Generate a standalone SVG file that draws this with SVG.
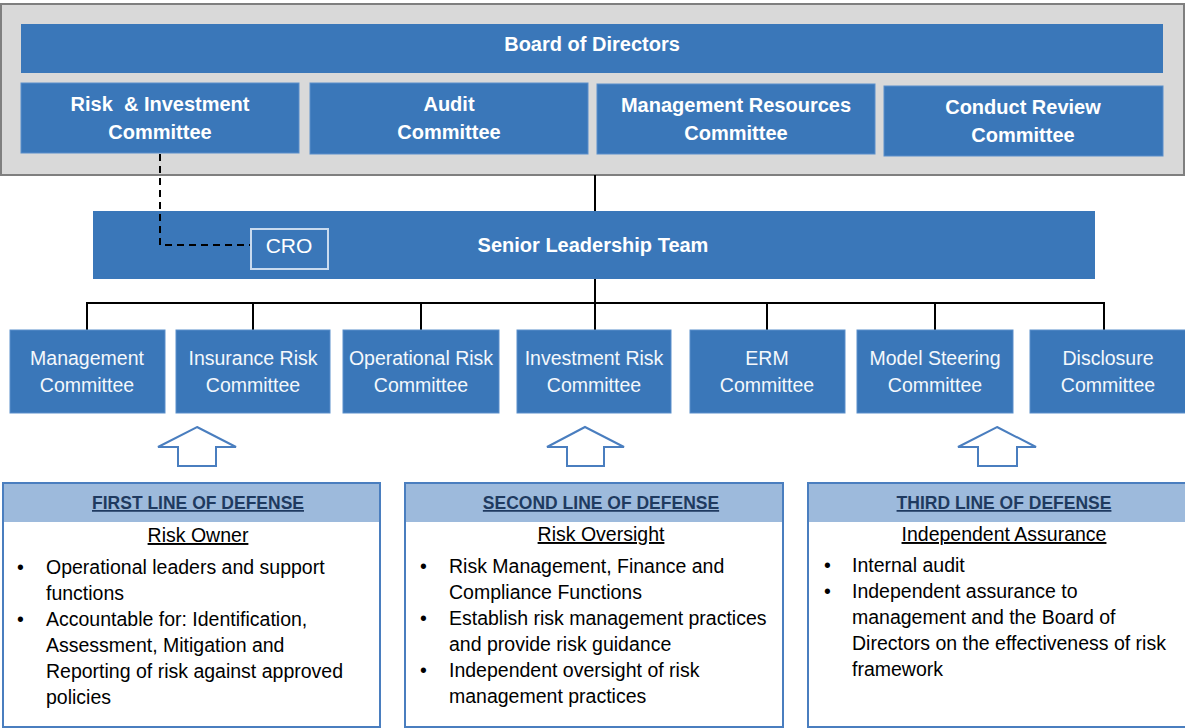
<svg xmlns="http://www.w3.org/2000/svg" width="1185" height="728" viewBox="0 0 1185 728">
  <style>
    .blue { fill: #3a77b9; }
    .cbox { fill: #3a77b9; stroke: #5a8fcb; stroke-width: 1; }
    .wb { font-family: "Liberation Sans", Arial, sans-serif; font-size: 20px; font-weight: bold; fill: #ffffff; text-anchor: middle; }
    .wn { font-family: "Liberation Sans", Arial, sans-serif; font-size: 19.5px; fill: #f4f8fc; text-anchor: middle; }
    .conn { stroke: #000000; stroke-width: 2; fill: none; }
    .dash { stroke: #000000; stroke-width: 2; fill: none; stroke-dasharray: 7 5; }
    .arrow { fill: #ffffff; stroke: #4a7ebf; stroke-width: 2; }
    .panel { fill: #ffffff; stroke: #4a7ebf; stroke-width: 2; }
    .band { fill: #9dbadc; }
    .hd { font-family: "Liberation Sans", Arial, sans-serif; font-size: 17.5px; font-weight: bold; fill: #1f3a60; text-anchor: middle; text-decoration: underline; }
    .sub { font-family: "Liberation Sans", Arial, sans-serif; font-size: 19.5px; fill: #000000; text-anchor: middle; text-decoration: underline; }
    .body { font-family: "Liberation Sans", Arial, sans-serif; font-size: 19.5px; fill: #000000; }
  </style>

  <!-- Board frame -->
  <g id="board-frame">
    <rect x="1" y="4" width="1183" height="171" fill="#d9d9d9" stroke="#7f7f7f" stroke-width="2"/>
  </g>

  <g id="board">
    <rect class="blue" x="21" y="24" width="1142" height="49"/>
    <text class="wb" x="592" y="51">Board of Directors</text>
  </g>

  <g id="risk-investment">
    <rect class="cbox" x="21" y="83" width="278" height="70"/>
    <text class="wb" x="160" y="111" xml:space="preserve">Risk  &amp; Investment</text>
    <text class="wb" x="160" y="139">Committee</text>
  </g>
  <g id="audit">
    <rect class="cbox" x="310" y="83" width="278" height="71"/>
    <text class="wb" x="449" y="111">Audit</text>
    <text class="wb" x="449" y="139">Committee</text>
  </g>
  <g id="mgmt-resources">
    <rect class="cbox" x="597" y="84" width="278" height="70"/>
    <text class="wb" x="736" y="112">Management Resources</text>
    <text class="wb" x="736" y="140">Committee</text>
  </g>
  <g id="conduct-review">
    <rect class="cbox" x="884" y="86" width="279" height="70"/>
    <text class="wb" x="1023" y="114">Conduct Review</text>
    <text class="wb" x="1023" y="142">Committee</text>
  </g>

  <g id="senior-leadership">
    <rect class="blue" x="93" y="211" width="1002" height="68"/>
    <text class="wb" x="593" y="252">Senior Leadership Team</text>
  </g>

  <!-- Connectors (drawn over the leadership bar so the dotted reporting line shows) -->
  <g id="connectors">
    <line class="conn" x1="595" y1="175" x2="595" y2="211"/>
    <line class="conn" x1="595" y1="279" x2="595" y2="330"/>
    <line class="conn" x1="87" y1="303" x2="1104" y2="303"/>
    <line class="conn" x1="87" y1="302" x2="87" y2="330"/>
    <line class="conn" x1="253" y1="302" x2="253" y2="330"/>
    <line class="conn" x1="421" y1="302" x2="421" y2="330"/>
    <line class="conn" x1="767" y1="302" x2="767" y2="330"/>
    <line class="conn" x1="935" y1="302" x2="935" y2="330"/>
    <line class="conn" x1="1104" y1="302" x2="1104" y2="330"/>
    <path class="dash" d="M160,154 V245 H250"/>
  </g>

  <g id="cro">
    <rect x="251" y="229" width="77" height="40" fill="#3a77b9" stroke="#c9dbef" stroke-width="2"/>
    <text x="289" y="253" font-family="Liberation Sans, Arial, sans-serif" font-size="21" fill="#ffffff" text-anchor="middle">CRO</text>
  </g>

  <!-- Management committees -->
  <g id="management-committee">
    <rect class="cbox" x="10" y="330" width="155" height="83"/>
    <text class="wn" x="87" y="365">Management</text>
    <text class="wn" x="87" y="392">Committee</text>
  </g>
  <g id="insurance-risk">
    <rect class="cbox" x="176" y="330" width="154" height="83"/>
    <text class="wn" x="253" y="365">Insurance Risk</text>
    <text class="wn" x="253" y="392">Committee</text>
  </g>
  <g id="operational-risk">
    <rect class="cbox" x="343" y="330" width="156" height="83"/>
    <text class="wn" x="421" y="365">Operational Risk</text>
    <text class="wn" x="421" y="392">Committee</text>
  </g>
  <g id="investment-risk">
    <rect class="cbox" x="517" y="330" width="154" height="83"/>
    <text class="wn" x="594" y="365">Investment Risk</text>
    <text class="wn" x="594" y="392">Committee</text>
  </g>
  <g id="erm">
    <rect class="cbox" x="690" y="330" width="155" height="83"/>
    <text class="wn" x="767" y="365">ERM</text>
    <text class="wn" x="767" y="392">Committee</text>
  </g>
  <g id="model-steering">
    <rect class="cbox" x="857" y="330" width="156" height="83"/>
    <text class="wn" x="935" y="365">Model Steering</text>
    <text class="wn" x="935" y="392">Committee</text>
  </g>
  <g id="disclosure">
    <rect class="cbox" x="1030" y="330" width="156" height="83"/>
    <text class="wn" x="1108" y="365">Disclosure</text>
    <text class="wn" x="1108" y="392">Committee</text>
  </g>

  <!-- Hollow up-arrows -->
  <g id="arrow-first">
    <polygon class="arrow" points="197,427 236,447 216,447 216,466 178,466 178,447 158,447"/>
  </g>
  <g id="arrow-second">
    <polygon class="arrow" points="585,427 624,447 604,447 604,466 567,466 567,447 547,447"/>
  </g>
  <g id="arrow-third">
    <polygon class="arrow" points="997,427 1036,447 1017,447 1017,466 978,466 978,447 958,447"/>
  </g>

  <!-- First line of defense -->
  <g id="first-line">
    <rect class="panel" x="3" y="483" width="377" height="244"/>
    <rect class="band" x="4" y="484" width="375" height="38"/>
    <text class="hd" x="198" y="509">FIRST LINE OF DEFENSE</text>
    <text class="sub" x="198" y="542">Risk Owner</text>
    <text class="body" x="17" y="574">•</text>
    <text class="body" x="46" y="574">Operational leaders and support</text>
    <text class="body" x="46" y="600">functions</text>
    <text class="body" x="17" y="626">•</text>
    <text class="body" x="46" y="626">Accountable for: Identification,</text>
    <text class="body" x="46" y="652">Assessment, Mitigation and</text>
    <text class="body" x="46" y="678">Reporting of risk against approved</text>
    <text class="body" x="46" y="704">policies</text>
  </g>

  <!-- Second line of defense -->
  <g id="second-line">
    <rect class="panel" x="405" y="483" width="378" height="244"/>
    <rect class="band" x="406" y="484" width="376" height="38"/>
    <text class="hd" x="601" y="509">SECOND LINE OF DEFENSE</text>
    <text class="sub" x="601" y="541">Risk Oversight</text>
    <text class="body" x="420" y="573">•</text>
    <text class="body" x="449" y="573">Risk Management, Finance and</text>
    <text class="body" x="449" y="599">Compliance Functions</text>
    <text class="body" x="420" y="625">•</text>
    <text class="body" x="449" y="625">Establish risk management practices</text>
    <text class="body" x="449" y="651">and provide risk guidance</text>
    <text class="body" x="420" y="677">•</text>
    <text class="body" x="449" y="677">Independent oversight of risk</text>
    <text class="body" x="449" y="703">management practices</text>
  </g>

  <!-- Third line of defense -->
  <g id="third-line">
    <rect class="panel" x="808" y="483" width="380" height="244"/>
    <rect class="band" x="809" y="484" width="378" height="38"/>
    <text class="hd" x="1004" y="509">THIRD LINE OF DEFENSE</text>
    <text class="sub" x="1004" y="541">Independent Assurance</text>
    <text class="body" x="824" y="572">•</text>
    <text class="body" x="852" y="572">Internal audit</text>
    <text class="body" x="824" y="598">•</text>
    <text class="body" x="852" y="598">Independent assurance to</text>
    <text class="body" x="852" y="624">management and the Board of</text>
    <text class="body" x="852" y="650">Directors on the effectiveness of risk</text>
    <text class="body" x="852" y="676">framework</text>
  </g>
</svg>
